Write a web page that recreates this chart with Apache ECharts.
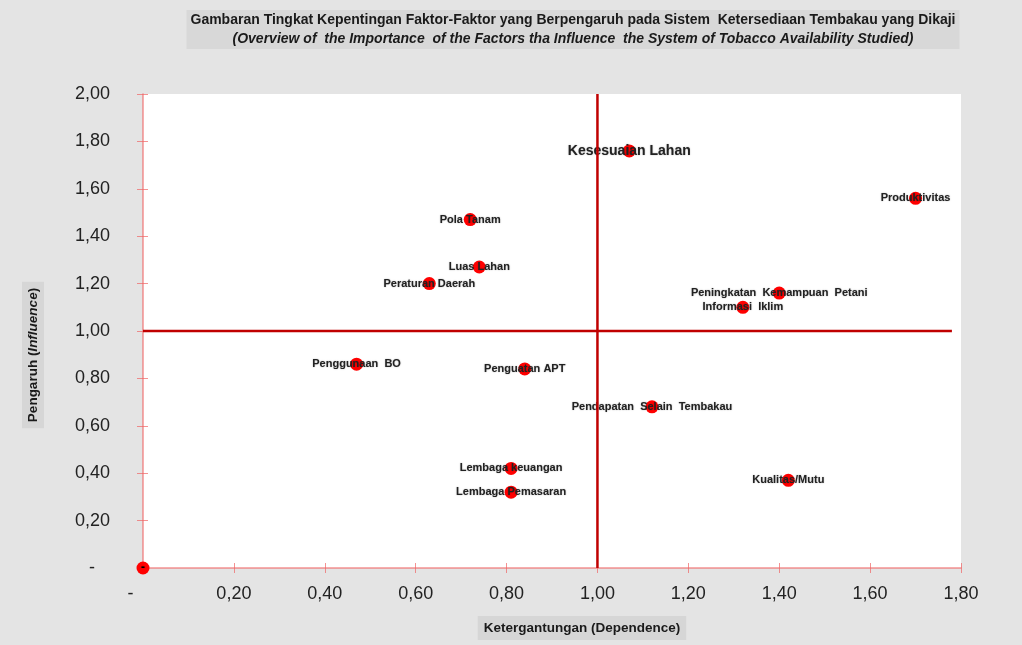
<!DOCTYPE html>
<html><head><meta charset="utf-8">
<script src="https://cdn.jsdelivr.net/npm/echarts@6/dist/echarts.min.js"></script>
<style>html,body{margin:0;padding:0;background:#e4e4e4}#c{width:1022px;height:645px}</style>
</head><body><div id="c"></div>
<script>
const factorNames = ['Kesesuaian Lahan','Produktivitas','Pola Tanam','Luas Lahan','Peraturan Daerah',
  'Peningkatan  Kemampuan  Petani','Informasi  Iklim','Penggunaan  BO','Penguatan APT',
  'Pendapatan  Selain  Tembakau','Lembaga keuangan','Lembaga Pemasaran','Kualitas/Mutu','-'];
const dependence = [1.07,1.70,0.72,0.74,0.63,1.40,1.32,0.47,0.84,1.12,0.81,0.81,1.42,0];
const influence  = [1.76,1.56,1.47,1.27,1.20,1.16,1.10,0.86,0.84,0.68,0.42,0.32,0.37,0];
const quadrantVertical = [[1,0],[1,2]];
const quadrantHorizontal = [[0,1],[1.78,1]];
const titleLine1 = 'Gambaran Tingkat Kepentingan Faktor-Faktor yang Berpengaruh pada Sistem  Ketersediaan Tembakau yang Dikaji';
const titleLine2 = '(Overview of  the Importance  of the Factors tha Influence  the System of Tobacco Availability Studied)';

const fmt = v => Math.abs(v) < 1e-9 ? '-' : v.toFixed(2).replace('.', ',');
const FONT = '"Liberation Sans", Arial, sans-serif';
const axisRed = 'rgba(240,100,100,0.7)';

const pts = factorNames.map((n,i) => {
  const d = {name:n, value:[dependence[i], influence[i]]};
  if (n === 'Kesesuaian Lahan') d.label = {fontSize:14};
  if (n === '-') d.label = {fontSize:12, color:'#000'};
  return d;
});

const chart = echarts.init(document.getElementById('c'));
chart.setOption({
  backgroundColor:'#e4e4e4',
  animation:false,
  grid:{left:143, top:94, right:61, bottom:77, show:true, backgroundColor:'#ffffff', borderWidth:0},
  title:{
    text:titleLine1, subtext:titleLine2, top:10,
    textAlign:'center', left:569, itemGap:5,
    backgroundColor:'#d8d8d8', padding:[3,4,3,4],
    textStyle:{fontFamily:FONT, fontSize:14, fontWeight:'bold', color:'#1a1a1a'},
    subtextStyle:{fontFamily:FONT, fontSize:14, fontWeight:'bold', fontStyle:'italic', color:'#1a1a1a'}
  },
  xAxis:[{
    type:'value', min:0, max:1.8, interval:0.2,
    axisLine:{show:true, onZero:false, lineStyle:{color:axisRed, width:1.5}},
    axisTick:{show:true, length:5, lineStyle:{color:axisRed}},
    splitLine:{show:false},
    axisLabel:{margin:17, fontFamily:FONT, fontSize:18, color:'#222',
      formatter:v => Math.abs(v)<1e-9 ? '-     ' : fmt(v)}
  },{
    type:'value', min:0, max:1.8, interval:0.2, position:'bottom',
    axisLine:{show:false}, axisTick:{show:true, inside:true, length:5, lineStyle:{color:axisRed}},
    axisLabel:{show:false}, splitLine:{show:false}
  }],
  yAxis:[{
    type:'value', min:0, max:2, interval:0.2,
    axisLine:{show:true, onZero:false, lineStyle:{color:axisRed, width:1.5}},
    axisTick:{show:true, length:6, lineStyle:{color:axisRed}},
    splitLine:{show:false},
    axisLabel:{margin:33, fontFamily:FONT, fontSize:18, color:'#222',
      formatter:v => Math.abs(v)<1e-9 ? '-   ' : fmt(v)}
  },{
    type:'value', min:0, max:2, interval:0.2, position:'left',
    axisLine:{show:false}, axisTick:{show:true, inside:true, length:5, lineStyle:{color:axisRed}},
    axisLabel:{show:false}, splitLine:{show:false}
  }],
  graphic:[
    {type:'text', x:33, y:355, rotation:Math.PI/2, z:10,
      style:{text:'{a|Pengaruh (}{b|Influence}{a|)}', textAlign:'center', textVerticalAlign:'middle',
        backgroundColor:'#d6d6d6', padding:[4,6,4,6],
        rich:{a:{fontFamily:FONT, fontSize:13.5, fontWeight:'bold', fill:'#1a1a1a'},
              b:{fontFamily:FONT, fontSize:13.5, fontWeight:'bold', fontStyle:'italic', fill:'#1a1a1a'}}}},
    {type:'text', x:582, y:628, z:10,
      style:{text:'Ketergantungan (Dependence)', textAlign:'center', textVerticalAlign:'middle',
        backgroundColor:'#d6d6d6', padding:[5,6,5,6],
        font:'bold 13.5px ' + FONT, fill:'#1a1a1a'}}
  ],
  series:[
    {type:'scatter', data:pts, symbolSize:13, z:3,
      itemStyle:{color:'#ff0000', opacity:1},
      label:{show:true, position:'inside', formatter:p => p.name,
        fontFamily:FONT, fontSize:11, fontWeight:'bold', color:'#222',
        textShadowColor:'rgba(0,0,0,0.35)', textShadowBlur:1.5}},
    {type:'line', data:quadrantVertical, symbol:'none', z:5, silent:true,
      lineStyle:{color:'#c00000', width:2.5}},
    {type:'line', data:quadrantHorizontal, symbol:'none', z:5, silent:true,
      lineStyle:{color:'#c00000', width:2.5}}
  ]
});
</script></body></html>
